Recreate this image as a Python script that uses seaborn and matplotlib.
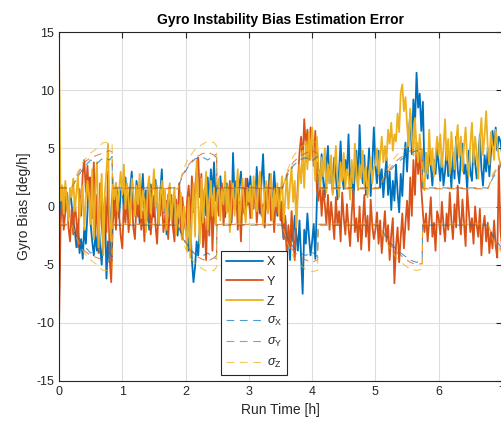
import numpy as np
import matplotlib
matplotlib.use("Agg")
import matplotlib.pyplot as plt
import seaborn as sns

# ---------------- data ----------------
# estimation error samples, every 0.025 h from 0 to 7 h
x_err = [
    -8.5, 1.5, 1.8, -0.5, 1.2, 0.3, -1.0, 1.5, 0.2, -1.2,
    -2.0, -3.5, -1.5, -4.0, -2.8, -4.5, -1.8, -3.2, -0.5, 2.5,
    -1.5, -3.0, -4.2, -2.5, -3.8, -1.0, -3.5, -5.0, -2.0, 0.5,
    -6.2, -3.0, -4.8, -0.5, 1.5, -0.5, 2.0, 0.8, -1.0, 1.2,
    1.8, -0.4, 2.5, 0.9, -1.2, 1.6, 3.0, 0.2, -0.8, 2.2,
    1.0, -1.5, 0.6, 2.8, -0.3, 1.4, 0.1, -2.0, 1.9, 0.7,
    -0.9, 2.3, 0.4, -1.6, 1.2, 3.2, -0.5, 0.8, -2.4, 1.0,
    -0.6, 0.3, -1.8, 0.9, -1.2, -2.5, 0.2, -1.0, -2.8, -0.4,
    -1.2, -2.5, -3.8, -1.5, -4.6, -6.5, -5.2, -3.0, -4.2, -1.8,
    0.5, -2.2, 1.5, -0.8, 2.5, 0.3, 3.2, 1.0, 3.8, 0.5,
    1.8, -0.5, 2.6, 0.8, 1.5, -0.9, 2.0, 0.4, 1.2, -1.4,
    4.6, 0.6, 2.2, -0.2, 1.7, 3.0, 0.1, 1.5, -0.7, 2.4,
    1.2, 2.6, -0.3, 1.8, 0.5, 3.4, 1.0, -0.6, 2.2, 4.5,
    0.8, 1.9, -0.2, 2.8, 1.3, 0.2, 3.0, 1.1, -0.8, 1.6,
    0.4, -1.5, -2.8, -1.0, -3.5, -2.2, -4.6, -1.6, -3.0, -0.8,
    -2.4, -3.8, -1.2, -4.4, -7.5, -2.0, -3.2, -0.6, -2.6, -4.2,
    -3.0, -1.5, -4.5, 0.5, 3.2, 1.8, 4.5, 2.2, 0.8, 3.6,
    5.2, 2.0, 3.8, 1.2, 4.2, 2.6, 0.6, 3.0, 5.6, 2.4,
    1.5, 4.0, 2.8, 6.2, 1.8, 3.4, 0.4, 2.9, 4.8, 1.6,
    7.0, 3.2, 2.0, 4.4, 1.0, 2.6, 5.0, 0.9, 3.5, 6.8,
    3.5, 2.0, 4.8, 1.6, 3.2, 0.8, 2.6, 4.2, 1.0, 3.0,
    -0.3, 2.2, 0.5, 3.6, 1.2, -0.5, 2.8, 0.9, 4.0, 5.5,
    3.0, 6.0, 8.0, 4.5, 9.2, 7.0, 11.5, 8.5, 9.7, 6.5,
    9.0, 3.0, 4.6, 2.4, 5.2, 3.4, 1.8, 4.0, 2.8, 5.0,
    3.6, 2.2, 4.4, 1.8, 3.0, 5.0, 2.6, 3.8, 1.6, 4.6,
    2.4, 6.0, 3.2, 2.0, 4.2, 5.4, 2.8, 3.6, 1.4, 4.8,
    3.0, 2.2, 5.2, 3.8, 2.4, 4.0, 6.2, 3.2, 1.8, 4.4,
    3.0, 5.0, 2.6, 4.6, 6.5, 5.2, 6.8, 4.8, 6.0, 5.6,
    4.5,
]
y_err = [
    -10.5, -1.5, 0.8, -2.0, -0.5, 1.2, -1.8, -3.0, -0.2, -2.4,
    0.5, -1.2, -3.5, 1.5, -0.8, 2.8, 4.0, 1.2, 3.5, 0.5,
    2.5, -1.0, 3.8, -2.5, 1.0, -4.0, 2.0, -1.5, -3.5, 0.8,
    -2.2, 3.0, -4.5, -6.5, -1.5, 0.5, -2.0, 1.0, -0.8, -2.5,
    -3.6, 0.2, -1.4, 1.0, -2.2, -0.3, 0.8, -1.8, -2.8, 0.4,
    -0.9, 1.2, -2.0, -0.4, -3.0, 0.6, -1.2, 1.5, -2.4, -0.6,
    0.9, -1.6, -3.2, 0.0, -0.8, 1.4, -2.2, -1.0, 0.5, -2.8,
    -0.2, 1.0, -1.8, -3.0, 0.6, -1.4, 2.0, -2.2, 0.8, -1.0,
    -2.0, 0.5, 1.8, -1.5, 2.6, -0.5, 1.5, 3.2, 4.2, 0.8,
    2.8, -3.5, -1.0, -4.6, 0.5, -2.5, 1.8, -3.8, 0.2, -1.5,
    1.2, -0.8, 0.6, 2.0, -1.6, 0.3, 1.4, -0.4, 2.2, -1.2,
    0.8, -0.2, 1.6, -2.0, 0.4, -3.0, 1.0, -0.6, 2.4, 0.1,
    0.6, -1.0, 1.4, -0.2, 2.0, -1.4, 0.4, 1.6, -0.8, 0.2,
    -1.8, 1.0, -0.4, 2.2, -1.2, 0.6, -2.2, 0.8, -0.6, 1.4,
    -1.2, 0.4, -2.8, -0.8, -4.2, -1.6, -3.6, -0.4, -2.4, -4.6,
    -1.0, 2.0, 4.6, 6.0, 3.8, 7.5, 5.2, 6.6, 4.0, 6.8,
    5.8, 3.5, 6.5, 1.5, 0.5, 2.2, -0.8, 1.6, 0.2, -1.5,
    1.0, -2.0, 0.4, -1.2, -2.8, 0.8, -1.6, -0.4, -3.0, 1.2,
    -1.0, -2.4, 0.2, -1.8, -3.4, -0.6, 1.4, -2.2, -1.0, -3.0,
    0.0, -3.7, -1.4, 1.0, -2.6, -0.8, -3.8, 0.6, -1.6, -2.8,
    -2.0, -0.5, -3.2, -1.2, -4.0, -2.2, -0.4, -3.0, -1.6, -4.6,
    -2.4, -1.0, -6.6, -3.4, -1.8, -4.8, -2.6, -0.6, -3.6, -1.4,
    0.5, -2.0, 2.5, -0.8, 4.0, 1.0, 5.5, 2.8, 4.6, 1.5,
    -0.5, -2.2, -0.6, -3.0, -1.2, 0.8, -2.6, -1.4, -3.8, -0.4,
    -1.0, -2.4, 0.4, -1.6, -3.0, -0.6, -2.0, 1.2, -1.2, -2.8,
    0.2, -1.8, 1.8, -0.8, -2.4, 0.6, -1.4, -3.4, 1.4, -0.4,
    -2.2, -1.0, -3.2, 0.0, -1.6, -2.6, -0.2, -4.2, -1.8, -0.8,
    -3.0, -1.4, -4.0, -2.2, -3.6, -1.2, -3.4, -4.4, 3.5, -2.0,
    -3.5,
]
z_err = [
    13.7, 0.5, 1.8, -0.6, 2.2, 0.4, -1.2, 1.6, 0.8, 2.4,
    -0.4, 1.2, 2.6, -1.0, 0.6, 1.8, -2.0, 0.8, 2.2, 1.0,
    -1.5, 3.2, -2.8, 1.6, 3.8, -3.5, 0.4, 2.8, -4.2, 1.2,
    3.0, 5.4, -1.0, -3.0, 2.5, 0.6, 2.0, -0.4, 1.4, 3.0,
    1.0, 3.6, -0.2, 2.0, 0.6, -1.4, 2.4, 1.2, -0.8, 1.8,
    0.2, 2.8, -1.0, 1.4, 0.4, -2.2, 1.6, 2.6, -0.6, 1.0,
    3.2, 0.0, 1.8, -1.6, 0.8, 2.2, -0.4, 1.4, -2.0, 0.6,
    2.0, -1.2, 0.4, 1.6, -2.4, 0.2, -1.0, 1.2, -2.8, 0.0,
    -1.8, -3.8, 0.8, -4.4, -1.0, 2.0, -2.6, 4.0, 0.4, -3.2,
    2.4, -1.4, 1.0, 3.0, -2.0, 0.6, 2.2, -0.8, 1.6, -1.6,
    0.8, 2.4, -1.2, 1.4, 0.2, 3.0, -0.6, 1.8, -2.2, 0.6,
    2.0, -0.8, 1.2, 3.2, -1.6, 0.4, 2.4, 0.0, -1.4, 1.6,
    0.4, 1.8, -1.0, 2.6, 0.8, -0.4, 1.6, 3.0, 0.2, -1.6,
    1.2, 2.2, -0.6, 0.8, 2.8, -1.2, 1.4, 0.0, 2.0, -0.8,
    1.0, 2.6, -1.4, 0.6, 2.8, -0.2, 1.8, 3.4, 0.4, 2.2,
    -1.8, 1.2, 3.6, 2.0, 4.8, 1.6, 5.6, 3.2, 6.4, 4.0,
    6.8, 4.6, 2.2, 6.0, 3.4, 1.6, 4.2, 2.6, 5.0, 1.2,
    3.6, 2.0, 4.4, 1.0, 3.0, 5.2, 2.4, 0.8, 3.8, 2.2,
    4.6, 1.6, 3.2, 2.6, 0.6, 4.0, 2.0, 5.4, 3.0, 1.4,
    3.6, 2.4, 4.8, 1.8, 3.4, 0.8, 2.8, 4.2, 2.0, 3.4,
    3.6, 5.0, 2.8, 4.4, 6.0, 3.8, 5.2, 4.0, 6.6, 5.4,
    7.2, 4.8, 6.2, 5.6, 8.0, 6.4, 9.8, 10.5, 8.2, 9.4,
    7.0, 5.2, 8.4, 6.0, 4.4, 7.6, 5.0, 3.8, 6.2, 4.2,
    2.2, 1.4, 4.6, 2.8, 6.6, 3.6, 5.0, 2.6, 4.4, 6.0,
    4.4, 6.2, 3.4, 5.0, 7.5, 4.0, 5.8, 2.8, 6.4, 4.6,
    3.2, 5.6, 7.0, 4.2, 6.0, 3.0, 5.2, 6.8, 4.0, 2.6,
    5.4, 7.2, 3.8, 6.0, 4.6, 2.4, 5.8, 7.6, 4.4, 6.2,
    8.2, 5.0, 3.6, 6.4, 5.2, 4.0, 6.6, 5.4, 4.2, 3.6,
    3.5,
]

# 1-sigma envelopes (plotted as +/-), knots in hours
sigma_t = [0.0,
           0.20, 0.30, 0.40, 0.50, 0.60, 0.70, 0.80, 0.84, 0.845,
           1.88, 1.95, 2.05, 2.15, 2.25, 2.35, 2.45, 2.49, 2.495,
           3.53, 3.60, 3.70, 3.80, 3.90, 4.00, 4.08, 4.085, 4.095,
           5.05, 5.15, 5.25, 5.35, 5.45, 5.55, 5.65, 5.74, 5.745,
           6.78, 6.85, 6.92, 7.0]
sigma_x = [1.6,
           1.6, 2.6, 3.4, 4.0, 3.7, 4.2, 4.0, 4.3, 1.6,
           1.6, 2.6, 3.5, 4.1, 4.3, 4.0, 4.4, 4.2, 1.6,
           1.6, 2.6, 3.5, 4.0, 4.2, 3.9, 4.3, 4.3, 1.6,
           1.6, 2.4, 3.2, 3.8, 4.2, 4.6, 4.8, 4.6, 1.6,
           1.6, 2.4, 3.0, 3.6]
sigma_y = [1.55,
           1.55, 2.8, 3.8, 4.2, 4.4, 4.6, 4.8, 4.7, 1.55,
           1.55, 2.7, 3.6, 4.2, 4.5, 4.7, 4.4, 4.5, 1.55,
           1.55, 2.8, 3.8, 4.3, 4.6, 4.8, 4.6, 4.6, 1.55,
           1.55, 2.6, 3.4, 4.0, 4.4, 4.8, 5.0, 4.9, 1.55,
           1.55, 2.6, 3.2, 3.8]
sigma_z = [1.5,
           1.5, 3.0, 4.0, 4.6, 5.0, 5.5, 5.5, 5.4, 1.5,
           1.5, 3.0, 4.2, 4.9, 5.3, 5.6, 5.5, 5.2, 1.5,
           1.5, 3.0, 4.3, 5.0, 5.4, 5.6, 5.5, 5.5, 1.5,
           1.5, 2.8, 3.8, 4.5, 5.0, 5.4, 5.5, 5.4, 1.5,
           1.5, 2.8, 3.4, 4.0]

series_labels = ["X", "Y", "Z"]
sigma_labels = [r"$\sigma_{\mathrm{X}}$", r"$\sigma_{\mathrm{Y}}$", r"$\sigma_{\mathrm{Z}}$"]
x_ticks = [0, 1, 2, 3, 4, 5, 6, 7]
y_ticks = [-15, -10, -5, 0, 5, 10, 15]
colors = ["#0072BD", "#D95319", "#EDB120"]

# ---------------- style ----------------
sns.set_style("white")
plt.rcParams["font.family"] = ["Liberation Sans", "DejaVu Sans"]
plt.rcParams["axes.unicode_minus"] = False
plt.rcParams["mathtext.fontset"] = "custom"
plt.rcParams["mathtext.rm"] = "Liberation Sans"
plt.rcParams["mathtext.it"] = "Liberation Sans:italic"
plt.rcParams["mathtext.sf"] = "Liberation Sans"

ink = "#262626"
fig = plt.figure(figsize=(5.02, 4.23), dpi=100)
ax = fig.add_axes([0.1175, 0.0993, 0.8825, 0.825])

for vals, col, lab in zip([x_err, y_err, z_err], colors, series_labels):
    t = np.linspace(0, 7, len(vals))
    sns.lineplot(x=t, y=vals, ax=ax, color=col, linewidth=1.3, label=lab,
                 estimator=None, sort=False, legend=False)

for sig, col, lab in zip([sigma_x, sigma_y, sigma_z], colors, sigma_labels):
    neg = [-v for v in sig]
    sns.lineplot(x=sigma_t, y=sig, ax=ax, color=col, linewidth=0.8, alpha=0.7,
                 label=lab, estimator=None, sort=False, legend=False)
    ax.lines[-1].set_dashes((7, 5))
    sns.lineplot(x=sigma_t, y=neg, ax=ax, color=col, linewidth=0.8, alpha=0.7,
                 label="_nolegend_", estimator=None, sort=False, legend=False)
    ax.lines[-1].set_dashes((7, 5))

ax.set_xlim(0, 7)
ax.set_ylim(-15, 15)
ax.set_xticks(x_ticks)
ax.set_yticks(y_ticks)
ax.grid(True, color="#dedede", linewidth=0.8)
ax.set_axisbelow(True)
for s in ax.spines.values():
    s.set_color(ink)
    s.set_linewidth(0.8)
ax.tick_params(direction="in", length=4, width=0.8, top=True, right=True,
               colors=ink, labelsize=9, labelcolor=ink)

ax.set_title("Gyro Instability Bias Estimation Error", fontsize=10,
             fontweight="bold", color="black", pad=6)
ax.set_xlabel("Run Time [h]", fontsize=10, color=ink)
ax.set_ylabel("Gyro Bias [deg/h]", fontsize=10, color=ink)

handles, labels = ax.get_legend_handles_labels()
leg = ax.legend(handles, labels, loc="lower left", bbox_to_anchor=(0.365, 0.017),
                borderaxespad=0, fancybox=False, framealpha=1, edgecolor=ink,
                fontsize=9, handlelength=3.0, labelspacing=0.62, borderpad=0.4,
                handletextpad=0.3)
leg.get_frame().set_linewidth(0.8)

fig.savefig("out.png", dpi=100)
